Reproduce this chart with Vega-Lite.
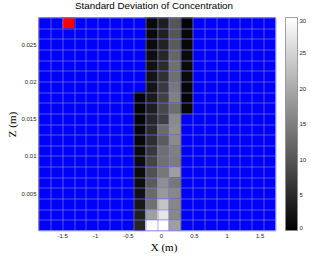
{
  "$schema": "https://vega.github.io/schema/vega-lite/v6.json",
  "width": 237,
  "height": 213,
  "autosize": {"type": "none"},
  "padding": {"left": 38.5, "top": 17.5, "right": 35.5, "bottom": 27.5},
  "background": "#ffffff",
  "title": {"text": "Standard Deviation of Concentration", "font": "Liberation Sans", "fontSize": 9.8, "fontWeight": "normal", "color": "#000000", "offset": 4, "anchor": "middle", "dx": -3},
  "config": {
    "view": {"fill": "#0000ff", "stroke": null}
  },
  "layer": [
    {
      "data": {"values": [
        {"x":-0.24,"x2":-0.06,"z":0.0271429,"z2":0.0285714,"v":1.2},
        {"x":-0.06,"x2":0.12,"z":0.0271429,"z2":0.0285714,"v":3.5},
        {"x":0.12,"x2":0.30,"z":0.0271429,"z2":0.0285714,"v":10.0},
        {"x":0.30,"x2":0.48,"z":0.0271429,"z2":0.0285714,"v":0.6},
        {"x":-0.24,"x2":-0.06,"z":0.0257143,"z2":0.0271429,"v":1.2},
        {"x":-0.06,"x2":0.12,"z":0.0257143,"z2":0.0271429,"v":3.8},
        {"x":0.12,"x2":0.30,"z":0.0257143,"z2":0.0271429,"v":10.0},
        {"x":0.30,"x2":0.48,"z":0.0257143,"z2":0.0271429,"v":0.9},
        {"x":-0.24,"x2":-0.06,"z":0.0242857,"z2":0.0257143,"v":1.4},
        {"x":-0.06,"x2":0.12,"z":0.0242857,"z2":0.0257143,"v":4.0},
        {"x":0.12,"x2":0.30,"z":0.0242857,"z2":0.0257143,"v":10.6},
        {"x":0.30,"x2":0.48,"z":0.0242857,"z2":0.0257143,"v":0.9},
        {"x":-0.24,"x2":-0.06,"z":0.0228571,"z2":0.0242857,"v":1.6},
        {"x":-0.06,"x2":0.12,"z":0.0228571,"z2":0.0242857,"v":4.5},
        {"x":0.12,"x2":0.30,"z":0.0228571,"z2":0.0242857,"v":12.0},
        {"x":0.30,"x2":0.48,"z":0.0228571,"z2":0.0242857,"v":1.2},
        {"x":-0.24,"x2":-0.06,"z":0.0214286,"z2":0.0228571,"v":1.9},
        {"x":-0.06,"x2":0.12,"z":0.0214286,"z2":0.0228571,"v":4.9},
        {"x":0.12,"x2":0.30,"z":0.0214286,"z2":0.0228571,"v":13.2},
        {"x":0.30,"x2":0.48,"z":0.0214286,"z2":0.0228571,"v":1.2},
        {"x":-0.24,"x2":-0.06,"z":0.02,"z2":0.0214286,"v":2.4},
        {"x":-0.06,"x2":0.12,"z":0.02,"z2":0.0214286,"v":5.6},
        {"x":0.12,"x2":0.30,"z":0.02,"z2":0.0214286,"v":13.2},
        {"x":0.30,"x2":0.48,"z":0.02,"z2":0.0214286,"v":1.2},
        {"x":-0.24,"x2":-0.06,"z":0.0185714,"z2":0.02,"v":2.5},
        {"x":-0.06,"x2":0.12,"z":0.0185714,"z2":0.02,"v":6.8},
        {"x":0.12,"x2":0.30,"z":0.0185714,"z2":0.02,"v":14.1},
        {"x":0.30,"x2":0.48,"z":0.0185714,"z2":0.02,"v":0.8},
        {"x":-0.42,"x2":-0.24,"z":0.0171429,"z2":0.0185714,"v":0.6},
        {"x":-0.24,"x2":-0.06,"z":0.0171429,"z2":0.0185714,"v":3.1},
        {"x":-0.06,"x2":0.12,"z":0.0171429,"z2":0.0185714,"v":7.5},
        {"x":0.12,"x2":0.30,"z":0.0171429,"z2":0.0185714,"v":15.1},
        {"x":0.30,"x2":0.48,"z":0.0171429,"z2":0.0185714,"v":0.6},
        {"x":-0.42,"x2":-0.24,"z":0.0157143,"z2":0.0171429,"v":0.6},
        {"x":-0.24,"x2":-0.06,"z":0.0157143,"z2":0.0171429,"v":3.5},
        {"x":-0.06,"x2":0.12,"z":0.0157143,"z2":0.0171429,"v":8.4},
        {"x":0.12,"x2":0.30,"z":0.0157143,"z2":0.0171429,"v":12.9},
        {"x":0.30,"x2":0.48,"z":0.0157143,"z2":0.0171429,"v":0.9},
        {"x":-0.42,"x2":-0.24,"z":0.0142857,"z2":0.0157143,"v":0.7},
        {"x":-0.24,"x2":-0.06,"z":0.0142857,"z2":0.0157143,"v":4.5},
        {"x":-0.06,"x2":0.12,"z":0.0142857,"z2":0.0157143,"v":7.3},
        {"x":0.12,"x2":0.30,"z":0.0142857,"z2":0.0157143,"v":16.2},
        {"x":-0.42,"x2":-0.24,"z":0.0128571,"z2":0.0142857,"v":0.9},
        {"x":-0.24,"x2":-0.06,"z":0.0128571,"z2":0.0142857,"v":4.9},
        {"x":-0.06,"x2":0.12,"z":0.0128571,"z2":0.0142857,"v":12.5},
        {"x":0.12,"x2":0.30,"z":0.0128571,"z2":0.0142857,"v":16.7},
        {"x":-0.42,"x2":-0.24,"z":0.0114286,"z2":0.0128571,"v":0.9},
        {"x":-0.24,"x2":-0.06,"z":0.0114286,"z2":0.0128571,"v":5.4},
        {"x":-0.06,"x2":0.12,"z":0.0114286,"z2":0.0128571,"v":10.6},
        {"x":0.12,"x2":0.30,"z":0.0114286,"z2":0.0128571,"v":16.2},
        {"x":-0.42,"x2":-0.24,"z":0.01,"z2":0.0114286,"v":1.2},
        {"x":-0.24,"x2":-0.06,"z":0.01,"z2":0.0114286,"v":6.6},
        {"x":-0.06,"x2":0.12,"z":0.01,"z2":0.0114286,"v":12.9},
        {"x":0.12,"x2":0.30,"z":0.01,"z2":0.0114286,"v":15.1},
        {"x":-0.42,"x2":-0.24,"z":0.0085714,"z2":0.01,"v":1.4},
        {"x":-0.24,"x2":-0.06,"z":0.0085714,"z2":0.01,"v":8.0},
        {"x":-0.06,"x2":0.12,"z":0.0085714,"z2":0.01,"v":13.2},
        {"x":0.12,"x2":0.30,"z":0.0085714,"z2":0.01,"v":14.6},
        {"x":-0.42,"x2":-0.24,"z":0.0071429,"z2":0.0085714,"v":1.4},
        {"x":-0.24,"x2":-0.06,"z":0.0071429,"z2":0.0085714,"v":9.4},
        {"x":-0.06,"x2":0.12,"z":0.0071429,"z2":0.0085714,"v":14.0},
        {"x":0.12,"x2":0.30,"z":0.0071429,"z2":0.0085714,"v":18.6},
        {"x":-0.42,"x2":-0.24,"z":0.0057143,"z2":0.0071429,"v":1.6},
        {"x":-0.24,"x2":-0.06,"z":0.0057143,"z2":0.0071429,"v":10.6},
        {"x":-0.06,"x2":0.12,"z":0.0057143,"z2":0.0071429,"v":16.8},
        {"x":0.12,"x2":0.30,"z":0.0057143,"z2":0.0071429,"v":14.0},
        {"x":-0.42,"x2":-0.24,"z":0.0042857,"z2":0.0057143,"v":2.1},
        {"x":-0.24,"x2":-0.06,"z":0.0042857,"z2":0.0057143,"v":12.5},
        {"x":-0.06,"x2":0.12,"z":0.0042857,"z2":0.0057143,"v":18.0},
        {"x":0.12,"x2":0.30,"z":0.0042857,"z2":0.0057143,"v":16.0},
        {"x":-0.42,"x2":-0.24,"z":0.0028571,"z2":0.0042857,"v":2.8},
        {"x":-0.24,"x2":-0.06,"z":0.0028571,"z2":0.0042857,"v":13.2},
        {"x":-0.06,"x2":0.12,"z":0.0028571,"z2":0.0042857,"v":22.9},
        {"x":0.12,"x2":0.30,"z":0.0028571,"z2":0.0042857,"v":16.0},
        {"x":-0.42,"x2":-0.24,"z":0.0014286,"z2":0.0028571,"v":3.8},
        {"x":-0.24,"x2":-0.06,"z":0.0014286,"z2":0.0028571,"v":18.8},
        {"x":-0.06,"x2":0.12,"z":0.0014286,"z2":0.0028571,"v":27.1},
        {"x":0.12,"x2":0.30,"z":0.0014286,"z2":0.0028571,"v":16.0},
        {"x":-0.42,"x2":-0.24,"z":0,"z2":0.0014286,"v":4.5},
        {"x":-0.24,"x2":-0.06,"z":0,"z2":0.0014286,"v":29.6},
        {"x":-0.06,"x2":0.12,"z":0,"z2":0.0014286,"v":30},
        {"x":0.12,"x2":0.30,"z":0,"z2":0.0014286,"v":18.8}
      ]},
      "mark": {"type": "rect"},
      "encoding": {
        "x": {
          "field": "x", "type": "quantitative",
          "scale": {"domain": [-1.86, 1.74], "nice": false, "zero": false},
          "axis": {
            "values": [-1.86,-1.68,-1.5,-1.32,-1.14,-1,-0.96,-0.78,-0.6,-0.5,-0.42,-0.24,-0.06,0,0.12,0.3,0.48,0.5,0.66,0.84,1,1.02,1.2,1.38,1.5,1.56,1.74],
            "tickCount": 200,
            "grid": true,
            "gridColor": "#8484c8",
            "gridWidth": 0.8,
            "gridOpacity": {"condition": {"test": "abs((datum.value + 1.86) / 0.18 - round((datum.value + 1.86) / 0.18)) < 0.02", "value": 0.8}, "value": 0},
            "ticks": false,
            "domain": false,
            "labelExpr": "abs(datum.value * 2 - round(datum.value * 2)) < 0.001 ? '' + round(datum.value * 2) / 2 : ''",
            "labelOverlap": false,
            "labelFlush": false,
            "labelFont": "Liberation Sans",
            "labelFontSize": 6,
            "labelColor": "#222222",
            "labelPadding": 2,
            "title": "X (m)",
            "titleFont": "Liberation Serif",
            "titleFontSize": 11,
            "titleFontWeight": "normal",
            "titleColor": "#000000",
            "titlePadding": 3,
            "titleX": 125,
            "zindex": 1
          }
        },
        "x2": {"field": "x2"},
        "y": {
          "field": "z", "type": "quantitative",
          "scale": {"domain": [0, 0.0285714], "nice": false, "zero": false},
          "axis": {
            "values": [0,0.0014286,0.0028571,0.0042857,0.005,0.0057143,0.0071429,0.0085714,0.01,0.0114286,0.0128571,0.0142857,0.015,0.0157143,0.0171429,0.0185714,0.02,0.0214286,0.0228571,0.0242857,0.025,0.0257143,0.0271429,0.0285714],
            "tickCount": 200,
            "grid": true,
            "gridColor": "#8484c8",
            "gridWidth": 0.8,
            "gridOpacity": {"condition": {"test": "abs(datum.value * 700 - round(datum.value * 700)) < 0.02", "value": 0.8}, "value": 0},
            "ticks": false,
            "domain": false,
            "labelExpr": "datum.value > 0.001 && abs(datum.value * 200 - round(datum.value * 200)) < 0.001 ? '' + round(datum.value * 200) / 200 : ''",
            "labelOverlap": false,
            "labelFlush": false,
            "labelFont": "Liberation Sans",
            "labelFontSize": 6,
            "labelColor": "#222222",
            "labelPadding": 2.5,
            "title": "Z (m)",
            "titleFont": "Liberation Serif",
            "titleFontSize": 11,
            "titleFontWeight": "normal",
            "titleColor": "#000000",
            "titlePadding": 3,
            "zindex": 1
          }
        },
        "y2": {"field": "z2"},
        "color": {
          "field": "v", "type": "quantitative",
          "scale": {"domain": [0, 30], "range": ["#000000", "#ffffff"], "interpolate": "rgb"},
          "legend": {
            "title": null,
            "orient": "right",
            "direction": "vertical",
            "offset": 9.5,
            "padding": 0,
            "gradientLength": 213,
            "gradientThickness": 12,
            "gradientStrokeColor": "#888888",
            "gradientStrokeWidth": 0.8,
            "values": [0, 5, 10, 15, 20, 25, 30],
            "labelFont": "Liberation Sans",
            "labelFontSize": 6,
            "labelColor": "#222222",
            "labelOffset": 2
          }
        }
      }
    },
    {
      "data": {"values": [
        {"x":-1.5,"x2":-1.32,"z":0.0271429,"z2":0.0285714}
      ]},
      "mark": {"type": "rect", "color": "#ff0000"},
      "encoding": {
        "x": {"field": "x", "type": "quantitative"},
        "x2": {"field": "x2"},
        "y": {"field": "z", "type": "quantitative"},
        "y2": {"field": "z2"}
      }
    }
  ]
}
